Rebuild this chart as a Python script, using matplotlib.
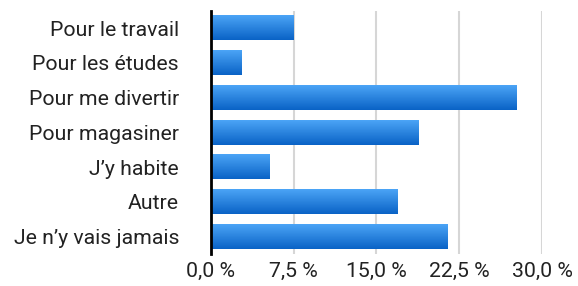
import matplotlib
matplotlib.use("Agg")
import matplotlib.pyplot as plt
import numpy as np
from matplotlib.colors import LinearSegmentedColormap

categories = ["Pour le travail", "Pour les études", "Pour me divertir", "Pour magasiner",
              "J\u2019y habite", "Autre", "Je n\u2019y vais jamais"]
values = [7.5, 2.8, 27.7, 18.8, 5.3, 16.9, 21.4]
ticks = [0, 7.5, 15, 22.5, 30]
tick_labels = ["0,0 %", "7,5 %", "15,0 %", "22,5 %", "30,0 %"]

plt.rcParams["font.family"] = ["Roboto", "DejaVu Sans"]

fig = plt.figure(figsize=(5.78, 2.86), dpi=100)
ax = fig.add_axes([0.365, 0.112, 0.5727, 0.85])

y = np.arange(len(categories))
bars = ax.barh(y, values, height=0.7, color="none", zorder=2)

# vertical gradient fill for each bar
cmap = LinearSegmentedColormap.from_list("blu", ["#4ba4f6", "#0a63c6"])
grad = np.linspace(0, 1, 64).reshape(-1, 1)
for b in bars:
    x0, y0 = b.get_x(), b.get_y()
    w, h = b.get_width(), b.get_height()
    ax.imshow(grad, cmap=cmap, aspect="auto", extent=(x0, x0 + w, y0 + h, y0),
              origin="upper", zorder=2)

ax.set_xlim(0, 30)
ax.set_ylim(len(categories) - 0.5, -0.5)
ax.set_yticks(y)
ax.set_yticklabels(categories, fontsize=15.3, color="#222222")
ax.set_xticks(ticks)
ax.set_xticklabels(tick_labels, fontsize=15.3, color="#222222")
ax.tick_params(axis="y", length=0, pad=23)
ax.tick_params(axis="x", length=0, pad=6)

ax.grid(axis="x", color="#d6d6d6", linewidth=1.5, zorder=0)
ax.set_axisbelow(True)
for s in ["top", "right", "bottom"]:
    ax.spines[s].set_visible(False)
ax.spines["left"].set_color("black")
ax.spines["left"].set_linewidth(2)
ax.spines["left"].set_zorder(3)

fig.savefig("out.png", dpi=100)
